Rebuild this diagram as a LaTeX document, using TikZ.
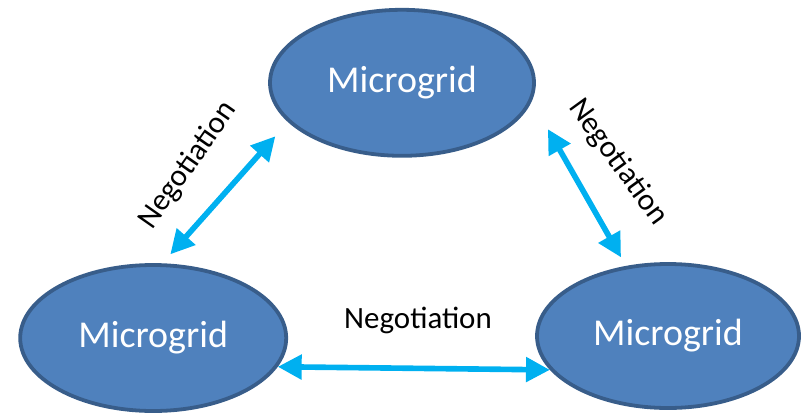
\documentclass[tikz,border=0pt]{standalone}
\usepackage{fontspec}
\setmainfont{Carlito}
\usepackage{tikz}
\usetikzlibrary{positioning,arrows.meta,shapes.geometric}
\definecolor{gridfill}{HTML}{4F81BD}
\definecolor{gridline}{HTML}{385D8A}
\definecolor{negblue}{HTML}{00B0F0}

\begin{document}
\begin{tikzpicture}[
  grid/.style={ellipse,draw=gridline,line width=2.7pt,fill=gridfill,text=white,inner sep=0pt,
    font=\fontsize{27}{31}\selectfont},
  neg/.style={{Triangle[length=17pt,width=17pt]}-{Triangle[length=17pt,width=17pt]},line width=4pt,negblue},
  neglbl/.style={font=\fontsize{22}{26}\selectfont,text=black,inner sep=1pt},
]
\useasboundingbox (0,0) rectangle (20.1,10.35);
% Three microgrids
\node[grid,minimum width=6.6cm,minimum height=3.65cm] (mgtop)   at (10.05, 8.28) {Microgrid};
\node[grid,minimum width=6.65cm,minimum height=3.65cm] (mgleft)  at (3.83, 1.9)   {Microgrid};
\node[grid,minimum width=6.55cm,minimum height=3.6cm] (mgright) at (16.7, 1.95)  {Microgrid};

% Negotiation links
\draw[neg,shorten <=8.5pt,shorten >=13.5pt] (mgleft.83) -- (mgtop.199);
\draw[neg,shorten <=23pt,shorten >=7pt] (mgtop.352) -- (mgright.121);
\draw[neg] (mgleft.347) -- (mgright.196);

% Labels
\node[neglbl,rotate=55]  (lblleft)  at (4.7, 6.22)  {Negotiation};
\node[neglbl,rotate=-54] (lblright) at (15.45, 6.3) {Negotiation};
\node[neglbl]            (lblbot)   at (10.45, 2.33) {Negotiation};
\end{tikzpicture}
\end{document}
